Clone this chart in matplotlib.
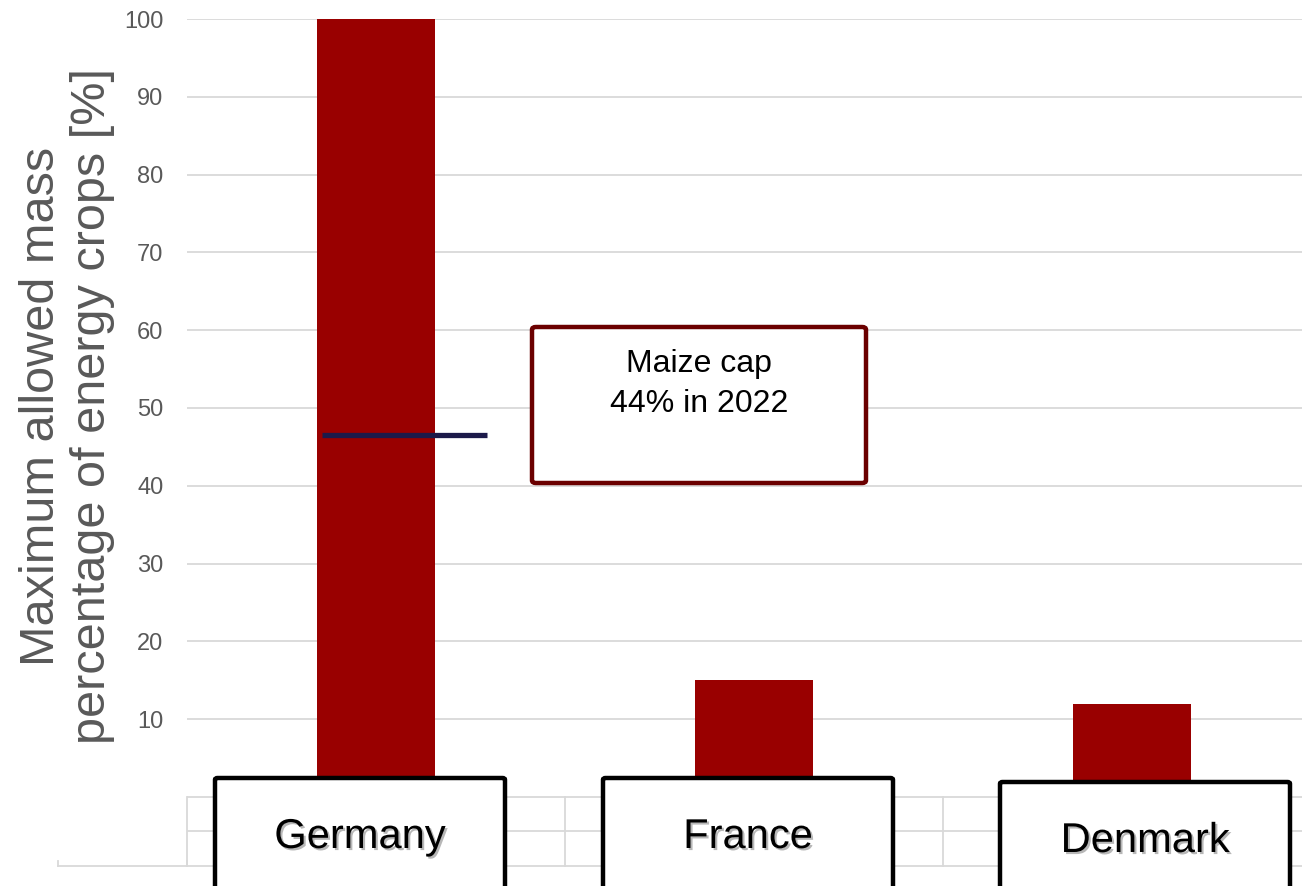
import matplotlib
matplotlib.use('Agg')
import matplotlib.pyplot as plt
import matplotlib.patheffects as pe
from matplotlib.patches import FancyBboxPatch

plt.rcParams['font.family'] = ['Liberation Sans', 'DejaVu Sans']

countries = ['Germany', 'France', 'Denmark']
max_share = [100, 15, 12]
maize_cap_level = 46.5
maize_note = 'Maize cap\n44% in 2022'
yticks = [10, 20, 30, 40, 50, 60, 70, 80, 90, 100]

W, H = 1302, 886
fig = plt.figure(figsize=(W / 100, H / 100), dpi=100)
# axes placed in pixels: left 187, right 1302, top 19, bottom 866
ax = fig.add_axes([187 / W, 20 / H, (W - 187) / W, (866 - 19) / H])

grid_col = '#d9d9d9'
bar_col = '#990000'
x = list(range(len(countries)))

ax.bar(x, max_share, width=0.312, color=bar_col, zorder=2)
ax.set_xlim(-0.5, -0.5 + (W - 187) / 378)
ax.set_ylim(-8.87, 100)

for v in [0] + yticks:
    ax.axhline(v, color=grid_col, lw=1.3, zorder=1)
ax.axhline(-4.4, color=grid_col, lw=1.3, zorder=1)
for b in [-0.5, 0.5, 1.5]:
    ax.plot([b, b], [-8.87, 0], color=grid_col, lw=1.3, zorder=1, clip_on=False)

ax.set_yticks(yticks)
ax.set_yticklabels([str(t) for t in yticks], fontsize=17, color='#595959')
ax.tick_params(axis='y', length=0, pad=17)
ax.set_xticks([])
for s in ax.spines.values():
    s.set_visible(False)
ax.spines['bottom'].set_visible(True)
ax.spines['bottom'].set_color(grid_col)
ax.spines['bottom'].set_linewidth(1.3)

# bottom line extending left of the axes
fig.add_artist(plt.Line2D([58 / W, 187 / W], [20 / H, 20 / H], color=grid_col, lw=1.3))
for px in [58, 187]:
    fig.add_artist(plt.Line2D([px / W, px / W], [20 / H, 25 / H], color=grid_col, lw=1.3))

# maize cap marker line
ax.plot([-0.143, 0.294], [maize_cap_level, maize_cap_level], color='#1c1a4a', lw=3.8, zorder=3,
        solid_capstyle='butt')

fig.text(67 / W, (H - 406) / H, 'Maximum allowed mass\npercentage of energy crops [%]',
         rotation=90, ha='center', va='center', fontsize=35, color='#595959', linespacing=1.15)

# maize cap note box
fig.add_artist(FancyBboxPatch((532 / W, (H - 483) / H), (866 - 532) / W, (483 - 327) / H,
                              boxstyle='round,pad=0,rounding_size=0.003', fc='white',
                              ec='#6b0000', lw=3.2, transform=fig.transFigure))
fig.text(699 / W, (H - 384) / H, maize_note, ha='center', va='center', fontsize=23,
         linespacing=1.45, color='black')

# category label boxes
boxes = [(215, 778, 505), (603, 778, 893), (1000, 782, 1290)]
shadow = [pe.SimplePatchShadow(offset=(1.5, -1.5), shadow_rgbFace='#888888', alpha=0.6), pe.Normal()]
for name, (x0, y0, x1) in zip(countries, boxes):
    fig.add_artist(FancyBboxPatch((x0 / W, -10 / H), (x1 - x0) / W, (H - y0 + 10) / H,
                                  boxstyle='round,pad=0,rounding_size=0.002', fc='white',
                                  ec='black', lw=3.2, transform=fig.transFigure, zorder=5))
    t = fig.text((x0 + x1) / 2 / W, (H - (y0 + 59)) / H, name, ha='center', va='center',
                 fontsize=30, color='black', zorder=6)
    t.set_path_effects(shadow)

fig.savefig('out.png', dpi=100)
